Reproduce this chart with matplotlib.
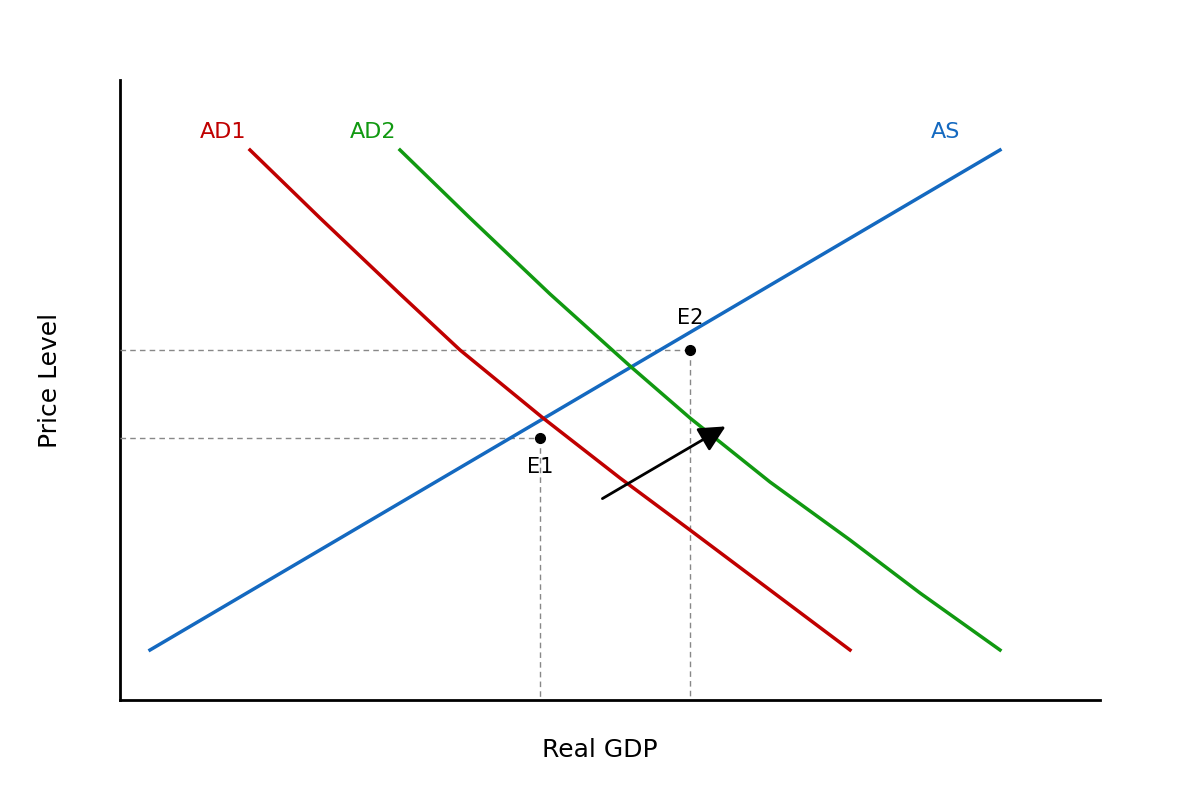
import matplotlib.pyplot as plt

# schematic coordinates (canvas units, y grows downward)
ad1_x = [250, 320, 400, 460, 543, 620, 690, 770, 850]
ad1_y = [150, 218, 294, 350, 418, 478, 530, 590, 650]
ad2_x = [400, 470, 550, 630, 690, 770, 850, 920, 1000]
ad2_y = [150, 218, 294, 366, 418, 482, 540, 593, 650]
as_x = [150, 1000]
as_y = [650, 150]

e1 = (540, 438)
e2 = (690, 350)

fig = plt.figure(figsize=(12, 8), dpi=100)
ax = fig.add_axes([0, 0, 1, 1])
ax.set_xlim(0, 1200)
ax.set_ylim(800, 0)
ax.axis("off")

# axes lines
ax.plot([120, 120], [80, 700], color="black", lw=2)
ax.plot([120, 1100], [700, 700], color="black", lw=2)

dash = dict(color="#888888", lw=1, ls=(0, (4, 3)))
ax.plot([120, e2[0]], [e2[1], e2[1]], **dash)
ax.plot([120, e1[0]], [e1[1], e1[1]], **dash)
ax.plot([e1[0], e1[0]], [e1[1], 700], **dash)
ax.plot([e2[0], e2[0]], [e2[1], 700], **dash)

ax.plot(as_x, as_y, color="#1469c0", lw=2.5)
ax.plot(ad1_x, ad1_y, color="#c00000", lw=2.5)
ax.plot(ad2_x, ad2_y, color="#119911", lw=2.5)

ax.plot(*e1, "o", color="black", ms=7, zorder=5)
ax.plot(*e2, "o", color="black", ms=7, zorder=5)

ax.annotate("", xy=(728, 425), xytext=(600, 500),
            arrowprops=dict(arrowstyle="-|>,head_length=1.6,head_width=0.8",
                            color="black", lw=2))

fs = 16
ax.text(223, 132, "AD1", color="#c00000", fontsize=fs, ha="center", va="center")
ax.text(373, 132, "AD2", color="#119911", fontsize=fs, ha="center", va="center")
ax.text(946, 132, "AS", color="#1469c0", fontsize=fs, ha="center", va="center")
ax.text(540, 467, "E1", fontsize=15, ha="center", va="center")
ax.text(690, 318, "E2", fontsize=15, ha="center", va="center")
ax.text(600, 750, "Real GDP", fontsize=18, ha="center", va="center")
ax.text(50, 380, "Price Level", fontsize=18, ha="center", va="center", rotation=90)

fig.savefig("out.png", dpi=100)
